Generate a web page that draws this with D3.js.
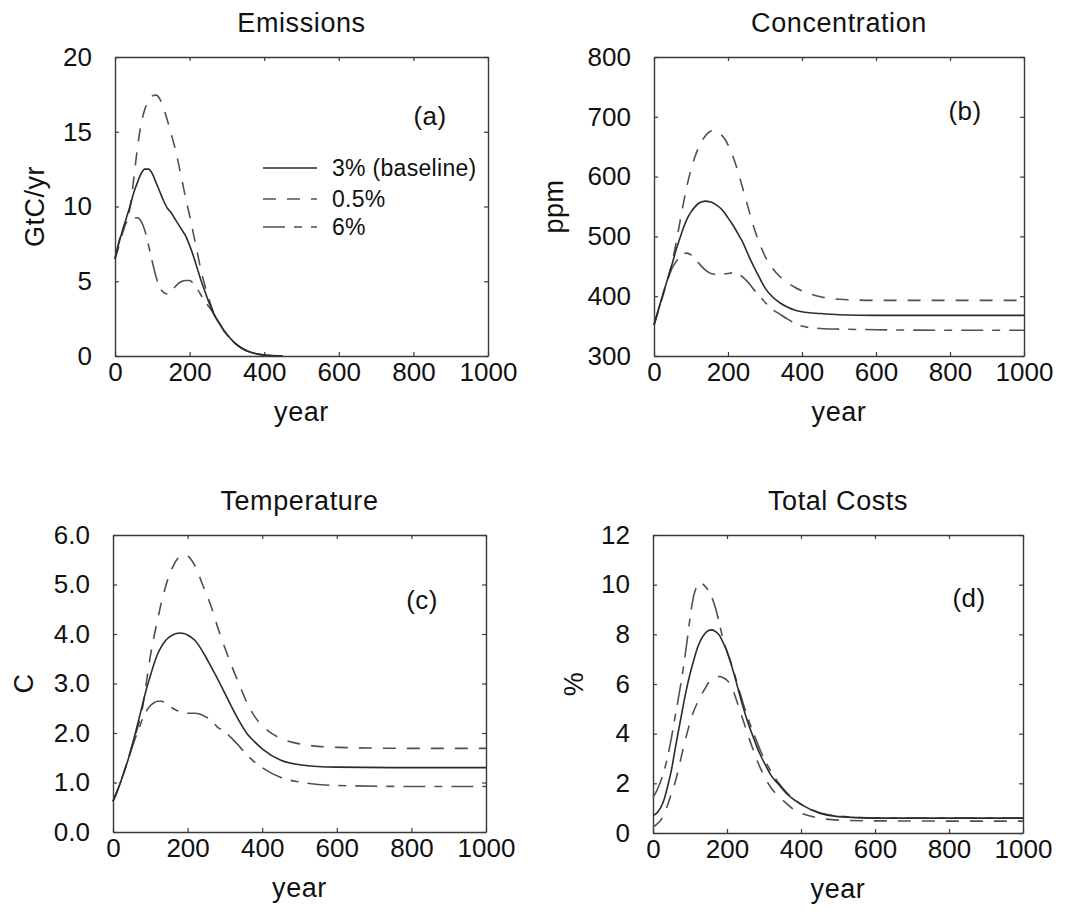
<!DOCTYPE html>
<html>
<head>
<meta charset="utf-8">
<script src="https://cdn.jsdelivr.net/npm/d3@7"></script>
<style>
  html, body { margin: 0; padding: 0; background: #fff; }
  svg { display: block; }
  text { font-family: "Liberation Sans", Arial, Helvetica, sans-serif; fill: #111; }
</style>
</head>
<body>
<svg id="chart" width="1083" height="914"></svg>
<script>
// ---------------- DATA ----------------
const years = [0,10,20,30,40,50,60,70,80,90,100,110,120,130,140,150,160,170,180,190,200,
  210,220,230,240,250,260,270,280,290,300,320,340,360,380,400,450,500,600,800,1000];

const seriesNames = ["3% (baseline)", "0.5%", "6%"];

// (a) Emissions, GtC/yr
const emis3 = [6.5,7.5,8.4,9.2,10.0,10.9,11.6,12.2,12.5,12.5,12.2,11.6,11.0,10.4,9.9,9.6,9.2,8.8,8.4,8.0,7.4,
  6.7,5.9,5.1,4.4,3.7,3.1,2.6,2.2,1.8,1.45,0.9,0.52,0.28,0.14,0.07,0,null,null,null,null];
const emis05 = [6.5,7.3,8.2,9.0,9.9,11.8,13.9,15.5,16.5,17.1,17.4,17.45,17.2,16.6,15.8,14.9,14.0,12.9,11.7,10.5,9.4,
  8.2,7.0,5.8,4.8,3.95,3.2,2.6,2.15,1.75,1.42,0.9,0.52,0.28,0.14,0.07,0,null,null,null,null];
const emis6 = [6.5,7.6,8.4,8.9,9.1,9.2,9.25,9.0,8.4,7.4,6.3,5.3,4.6,4.25,4.15,4.3,4.6,4.85,5.0,5.05,5.05,
  4.85,4.5,4.1,3.7,3.35,3.0,2.55,2.15,1.75,1.42,0.9,0.52,0.28,0.14,0.07,0,null,null,null,null];

// (b) Concentration, ppm
const conc3 = [352,373,395,415,435,456,478,497,515,530,541,549,555,558,559,558,556,552,547,540,531,
  522,512,501,490,476,462,449,437,425,414,399,389,382,377,374,371,369,368,368,368];
const conc05 = [352,372,392,413,435,460,490,524,557,587,612,632,648,660,669,675,677,676,671,664,653,
  639,622,602,580,558,536,515,497,481,467,447,433,423,415,409,399,395,393,393,393];
const conc6 = [352,373,395,415,433,448,458,466,471,472,469,463,456,449,443,439,437,436,436,437,438,
  439,438,436,432,426,419,411,404,397,390,378,370,362,355,350,346,345,344,343,343];

// (c) Temperature, C
const temp3 = [0.62,0.8,1.0,1.22,1.45,1.72,2.0,2.3,2.6,2.9,3.15,3.4,3.6,3.75,3.86,3.93,3.98,4.01,4.02,4.01,3.98,
  3.93,3.87,3.77,3.65,3.52,3.38,3.24,3.1,2.95,2.8,2.5,2.22,1.98,1.82,1.68,1.45,1.36,1.31,1.3,1.3];
const temp05 = [0.62,0.8,1.0,1.22,1.45,1.7,1.95,2.22,2.55,3.05,3.55,3.95,4.3,4.65,4.93,5.17,5.35,5.49,5.57,5.6,5.58,
  5.5,5.37,5.2,5.0,4.82,4.62,4.4,4.15,3.93,3.72,3.32,2.95,2.6,2.33,2.15,1.89,1.78,1.71,1.69,1.69];
const temp6 = [0.62,0.8,1.0,1.22,1.45,1.68,1.9,2.1,2.3,2.45,2.55,2.61,2.64,2.64,2.6,2.55,2.5,2.46,2.43,2.41,2.4,
  2.4,2.4,2.39,2.36,2.32,2.27,2.2,2.12,2.07,2.02,1.88,1.72,1.55,1.41,1.3,1.1,1.01,0.94,0.92,0.92];

// (d) Total Costs, %
const cost3 = [0.7,0.8,1.0,1.35,1.9,2.55,3.4,4.2,5.0,5.75,6.4,6.95,7.45,7.8,8.02,8.15,8.18,8.1,7.95,7.65,7.3,
  6.85,6.35,5.8,5.25,4.75,4.3,3.9,3.5,3.15,2.85,2.3,1.95,1.6,1.35,1.15,0.8,0.66,0.6,0.6,0.6];
const cost05 = [0.25,0.35,0.5,0.78,1.15,1.6,2.05,2.65,3.3,3.9,4.45,4.9,5.25,5.55,5.8,6.05,6.2,6.28,6.3,6.25,6.15,
  5.95,5.6,5.15,4.7,4.25,3.8,3.38,2.97,2.62,2.3,1.8,1.47,1.2,0.95,0.8,0.6,0.52,0.49,0.48,0.48];
const cost6 = [1.45,1.7,2.05,2.5,3.1,3.85,4.7,5.55,6.45,7.5,8.65,9.55,9.95,10.05,9.95,9.75,9.45,9.0,8.4,7.75,7.32,
  6.9,6.42,5.9,5.4,4.92,4.48,4.08,3.7,3.33,3.0,2.45,2.0,1.65,1.38,1.16,0.82,0.68,0.61,0.6,0.6];

const xTicks = [0,200,400,600,800,1000];
const yTicksA = [0,5,10,15,20];
const yTicksB = [300,400,500,600,700,800];
const yTicksC = [0,1,2,3,4,5,6];
const yTicksD = [0,2,4,6,8,10,12];

// ---------------- LAYOUT ----------------
const panels = [
  { title: "Emissions", ylabel: "GtC/yr", tag: "(a)", series: [emis3, emis05, emis6],
    yDomain: [0,20], yTicks: yTicksA, fmt: d3.format("d"),
    x0: 115, x1: 488, y0: 57, y1: 356, ylabX: 44, tagDx: -58, tagDy: 68, legend: true },
  { title: "Concentration", ylabel: "ppm", tag: "(b)", series: [conc3, conc05, conc6],
    yDomain: [300,800], yTicks: yTicksB, fmt: d3.format("d"),
    x0: 654, x1: 1024, y0: 57, y1: 356, ylabX: 563, tagDx: -59, tagDy: 63 },
  { title: "Temperature", ylabel: "C", tag: "(c)", series: [temp3, temp05, temp6],
    yDomain: [0,6], yTicks: yTicksC, fmt: d3.format(".1f"),
    x0: 113, x1: 486, y0: 535, y1: 832, ylabX: 33, tagDx: -64, tagDy: 74 },
  { title: "Total Costs", ylabel: "%", tag: "(d)", series: [cost3, cost05, cost6],
    yDomain: [0,12], yTicks: yTicksD, fmt: d3.format("d"),
    x0: 653, x1: 1023, y0: 535, y1: 833, ylabX: 583, tagDx: -54, tagDy: 72 }
];

const styles = [
  { stroke: "#2b2b2b", dash: null },
  { stroke: "#505050", dash: "13,11" },
  { stroke: "#505050", dash: "22,9,8,9" }
];

const svg = d3.select("#chart");
const axisColor = "#3a3a3a";
const font = "'Liberation Sans', Arial, Helvetica, sans-serif";

panels.forEach(p => {
  const x = d3.scaleLinear().domain([0,1000]).range([p.x0, p.x1]);
  const y = d3.scaleLinear().domain(p.yDomain).range([p.y1, p.y0]);
  const g = svg.append("g");

  const styleAxis = (sel, labels) => {
    sel.select(".domain").attr("stroke", axisColor).attr("stroke-width", 1.4);
    sel.selectAll(".tick line").attr("stroke", axisColor).attr("stroke-width", 1.2);
    sel.selectAll(".tick text")
      .attr("fill", "#111")
      .style("font-family", font)
      .style("font-size", "26px");
    if (!labels) sel.selectAll(".tick text").remove();
  };

  // bottom
  g.append("g").attr("transform", `translate(0,${p.y1})`)
    .call(d3.axisBottom(x).tickValues(xTicks).tickFormat(d3.format("d"))
      .tickSize(-4).tickSizeOuter(0).tickPadding(7))
    .call(s => styleAxis(s, true));
  // top
  g.append("g").attr("transform", `translate(0,${p.y0})`)
    .call(d3.axisTop(x).tickValues(xTicks).tickSize(-4).tickSizeOuter(0).tickFormat(""))
    .call(s => styleAxis(s, false));
  // left
  g.append("g").attr("transform", `translate(${p.x0},0)`)
    .call(d3.axisLeft(y).tickValues(p.yTicks).tickFormat(p.fmt).tickSize(-4).tickSizeOuter(0).tickPadding(23))
    .call(s => styleAxis(s, true));
  // right
  g.append("g").attr("transform", `translate(${p.x1},0)`)
    .call(d3.axisRight(y).tickValues(p.yTicks).tickSize(-4).tickSizeOuter(0).tickFormat(""))
    .call(s => styleAxis(s, false));

  // lines
  const line = d3.line()
    .defined(d => d[1] !== null)
    .x(d => x(d[0])).y(d => y(d[1]))
    .curve(d3.curveMonotoneX);
  [1,2,0].forEach(i => {
    const pts = years.map((yr, k) => [yr, p.series[i][k]]);
    g.append("path").datum(pts)
      .attr("fill", "none")
      .attr("stroke", styles[i].stroke)
      .attr("stroke-width", 1.6)
      .attr("stroke-dasharray", styles[i].dash)
      .attr("d", line);
  });

  const cx = (p.x0 + p.x1) / 2;
  // title
  g.append("text").attr("x", cx).attr("y", p.y0 - 25)
    .attr("text-anchor", "middle").style("font-size", "27px").style("letter-spacing", "0.6px")
    .text(p.title);
  // x label
  g.append("text").attr("x", cx).attr("y", p.y1 + 65)
    .attr("text-anchor", "middle").style("font-size", "27px").style("letter-spacing", "0.6px")
    .text("year");
  // y label
  g.append("text")
    .attr("transform", `translate(${p.ylabX},${(p.y0 + p.y1) / 2}) rotate(-90)`)
    .attr("text-anchor", "middle").style("font-size", "27px").style("letter-spacing", "0.5px")
    .text(p.ylabel);
  // tag
  g.append("text").attr("x", p.x1 + p.tagDx).attr("y", p.y0 + p.tagDy)
    .attr("text-anchor", "middle").style("font-size", "26px").style("letter-spacing", "0.4px")
    .text(p.tag);

  if (p.legend) {
    const lx0 = 263, lx1 = 317, ly = [168, 199, 227];
    seriesNames.forEach((name, i) => {
      g.append("line").attr("x1", lx0).attr("x2", lx1).attr("y1", ly[i]).attr("y2", ly[i])
        .attr("stroke", styles[i].stroke).attr("stroke-width", 1.4)
        .attr("stroke-dasharray", styles[i].dash);
      g.append("text").attr("x", 332).attr("y", ly[i] + 8)
        .style("font-size", "23px").style("letter-spacing", "0.3px")
        .text(name);
    });
  }
});
</script>
</body>
</html>
